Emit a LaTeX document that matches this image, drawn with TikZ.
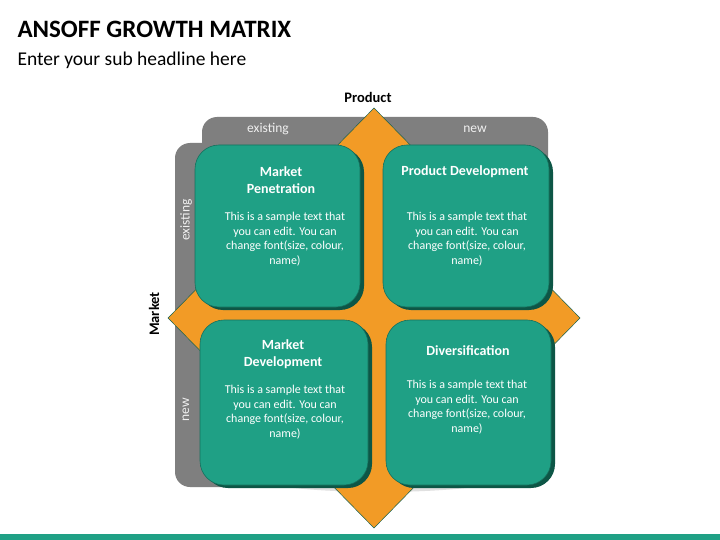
\documentclass[tikz,border=0pt]{standalone}
\usepackage{fontspec}
\setmainfont{Carlito}
\definecolor{teal1}{HTML}{1FA085}
\definecolor{tealdk}{HTML}{0D5646}
\definecolor{org}{HTML}{F29B26}
\definecolor{gr}{HTML}{7F7F7F}
\begin{document}
\begin{tikzpicture}[x=1pt,y=-1pt,
 box/.style={fill=teal1,draw=teal1!70!black,line width=0.6pt,rounded corners=24pt},
 shd/.style={fill=tealdk,rounded corners=24pt},
 ttl/.style={text=white,font=\bfseries\fontsize{14}{17}\selectfont,align=center},
 bdy/.style={text=white,font=\fontsize{12}{14.5}\selectfont,align=center},
 lbl/.style={text=white!88!gray,font=\fontsize{13.5}{15}\selectfont}]
\useasboundingbox (0,0) rectangle (720,540);
\fill[white] (0,0) rectangle (720,540);
\node[anchor=west,font=\bfseries\fontsize{25}{28}\selectfont] (title) at (14,29) {ANSOFF GROWTH MATRIX};
\node[anchor=west,font=\fontsize{19.5}{22}\selectfont] (sub) at (14,60) {Enter your sub headline here};
\fill[teal1] (0,534) rectangle (720,540);
% shadow
\fill[black!12] (380,470) ellipse (150 and 22);
% gray bands
\fill[gr,rounded corners=15pt] (202,117) rectangle (548,300);
\fill[gr,rounded corners=15pt] (175,143) rectangle (400,487);
% diamond
\draw[fill=org,draw=teal1!60!black,line width=0.5pt] (374,108) -- (580,318) -- (374,528) -- (168,318) -- cycle;
% boxes
\foreach \a/\b/\c/\d in {195/145/360/307,383/145/549/307,200/320/368/485,386/320/551/485}{
 \fill[shd] (\a+4,\b+3) rectangle (\c+4,\d+3);}
\draw[box] (195,145) rectangle (360,307);
\draw[box] (383,145) rectangle (549,307);
\draw[box] (200,320) rectangle (368,485);
\draw[box] (386,320) rectangle (551,485);
\node[ttl] (t1) at (281,180) {Market\\Penetration};
\node[bdy] (b1) at (285,239) {This is a sample text that\\you can edit. You can\\change font(size, colour,\\name)};
\node[ttl] (t2) at (465,172) {Product Development};
\node[bdy] (b2) at (467,239) {This is a sample text that\\you can edit. You can\\change font(size, colour,\\name)};
\node[ttl] (t3) at (283,354) {Market\\Development};
\node[bdy] (b3) at (285,412) {This is a sample text that\\you can edit. You can\\change font(size, colour,\\name)};
\node[ttl] (t4) at (468,351) {Diversification};
\node[bdy] (b4) at (467,407) {This is a sample text that\\you can edit. You can\\change font(size, colour,\\name)};
% axis labels
\node[font=\bfseries\fontsize{14.5}{16}\selectfont] (prod) at (368,97) {Product};
\node[lbl] (pe) at (268,129) {existing};
\node[lbl] (pn) at (475,129) {new};
\node[font=\bfseries\fontsize{14.5}{16}\selectfont,rotate=90] (mkt) at (154,314) {Market};
\node[lbl,rotate=90] (me) at (186,220) {existing};
\node[lbl,rotate=90] (mn) at (186,410) {new};
\end{tikzpicture}
\end{document}
